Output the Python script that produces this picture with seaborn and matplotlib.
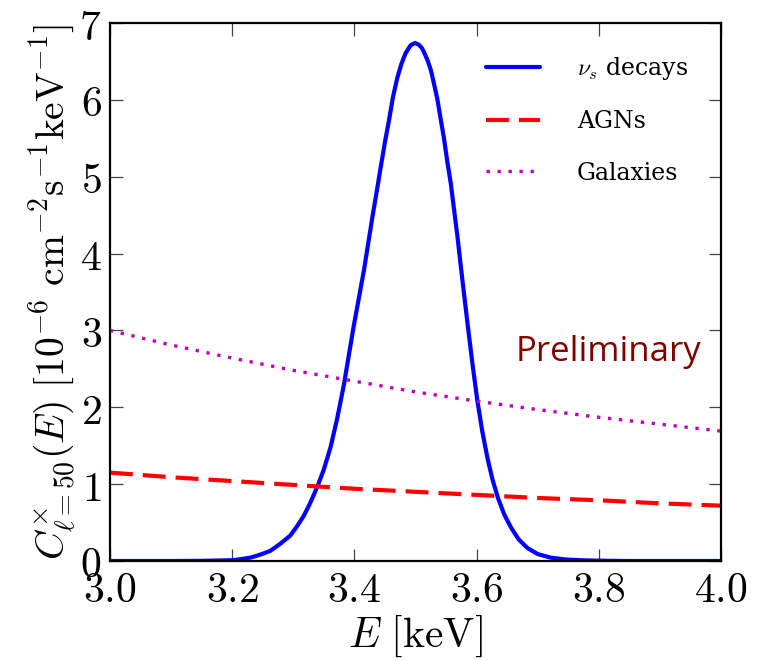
import numpy as np
import pandas as pd
import matplotlib
matplotlib.use("Agg")
import matplotlib.pyplot as plt
from matplotlib.ticker import FuncFormatter
import seaborn as sns

# ---- data ----
nu_E = [3.00, 3.10, 3.15, 3.20, 3.215, 3.23, 3.245, 3.262, 3.278, 3.295, 3.306,
        3.317, 3.328, 3.339, 3.350, 3.361, 3.372, 3.383, 3.391, 3.399, 3.408,
        3.416, 3.423, 3.430, 3.437, 3.443, 3.450, 3.457, 3.463, 3.470, 3.477,
        3.484, 3.492, 3.499, 3.505, 3.510, 3.514, 3.520, 3.525, 3.530, 3.536,
        3.541, 3.547, 3.552, 3.558, 3.563, 3.569, 3.577, 3.585, 3.593, 3.601,
        3.609, 3.618, 3.626, 3.635, 3.645, 3.656, 3.669, 3.683, 3.700, 3.721,
        3.745, 3.776, 3.82, 3.85, 4.00]
nu_v = [0.0, 0.0, 0.002, 0.01, 0.025, 0.044, 0.08, 0.13, 0.22, 0.33, 0.45,
        0.585, 0.76, 0.96, 1.19, 1.48, 1.86, 2.30, 2.68, 3.06, 3.45,
        3.80, 4.15, 4.50, 4.83, 5.12, 5.45, 5.75, 6.03, 6.28, 6.47,
        6.61, 6.71, 6.74, 6.72, 6.68, 6.62, 6.51, 6.39, 6.22, 6.00,
        5.76, 5.48, 5.20, 4.90, 4.58, 4.20, 3.64, 3.10, 2.58, 2.10,
        1.70, 1.33, 1.06, 0.82, 0.61, 0.44, 0.28, 0.17, 0.09, 0.044,
        0.02, 0.008, 0.002, 0.0, 0.0]

bg_E = [3.0, 3.1, 3.2, 3.3, 3.4, 3.5, 3.6, 3.7, 3.8, 3.9, 4.0]
agn_v = [1.15, 1.09, 1.04, 0.99, 0.94, 0.90, 0.86, 0.82, 0.79, 0.75, 0.72]
gal_v = [3.00, 2.81, 2.64, 2.48, 2.34, 2.20, 2.08, 1.97, 1.87, 1.78, 1.69]

xticks = [3.0, 3.2, 3.4, 3.6, 3.8, 4.0]
yticks = [0, 1, 2, 3, 4, 5, 6, 7]

sns.set_style("ticks")
plt.rcParams["mathtext.fontset"] = "cm"
plt.rcParams["font.family"] = ["DejaVu Serif"]
plt.rcParams["text.color"] = "black"
plt.rcParams["axes.labelcolor"] = "black"

fig = plt.figure(figsize=(7.69, 6.61), dpi=100)
ax = fig.add_axes([0.143, 0.1513, 0.7946, 0.8139])

df_nu = pd.DataFrame({"E": nu_E, "v": nu_v})
df_bg = pd.DataFrame({"E": bg_E, "agn": agn_v, "gal": gal_v})

sns.lineplot(data=df_nu, x="E", y="v", ax=ax, color="blue", lw=3,
             label=r"$\nu_s$ decays", sort=False)
sns.lineplot(data=df_bg, x="E", y="agn", ax=ax, color="red", lw=3,
             label="AGNs")
sns.lineplot(data=df_bg, x="E", y="gal", ax=ax, color=(0.75, 0, 0.75), lw=2.4,
             label="Galaxies")
lines = ax.get_lines()
lines[1].set_dashes((5.5, 2.4))
lines[2].set_dashes((1.0, 2.3))

ax.set_xlim(3.0, 4.0)
ax.set_ylim(0, 7)
ax.set_xticks(xticks)
ax.set_yticks(yticks)
ax.xaxis.set_major_formatter(FuncFormatter(lambda v, p: r"$%.1f$" % v))
ax.yaxis.set_major_formatter(FuncFormatter(lambda v, p: r"$%d$" % v))
ax.tick_params(axis="both", which="major", direction="in", length=9, width=0.9,
               color="#444444", labelcolor="black", labelsize=30,
               top=True, right=True, pad=6)
for s in ax.spines.values():
    s.set_linewidth(1.6)
    s.set_color("black")

ax.set_xlabel(r"$E\ [\mathrm{keV}]$", fontsize=30, labelpad=2, color="black")
ax.set_ylabel(r"$C^{\times}_{\ell=50}(E)\ [10^{-6}\ \mathrm{cm}^{-2}\mathrm{s}^{-1}\mathrm{keV}^{-1}]$",
              fontsize=28.5, labelpad=1, color="black")

leg = ax.legend(loc="upper left", bbox_to_anchor=((486 - 110) / 611, (561 - 55) / 538),
                frameon=False, fontsize=17, handlelength=2.3, handletextpad=1.55,
                labelspacing=1.2, borderpad=0, borderaxespad=0)
for t in leg.get_texts():
    t.set_color("black")

ax.text(3.815, 2.72, "Preliminary", color="#800000", fontsize=25,
        family=["Open Sans", "DejaVu Sans"], ha="center", va="center")

fig.savefig("out.png", dpi=100)
